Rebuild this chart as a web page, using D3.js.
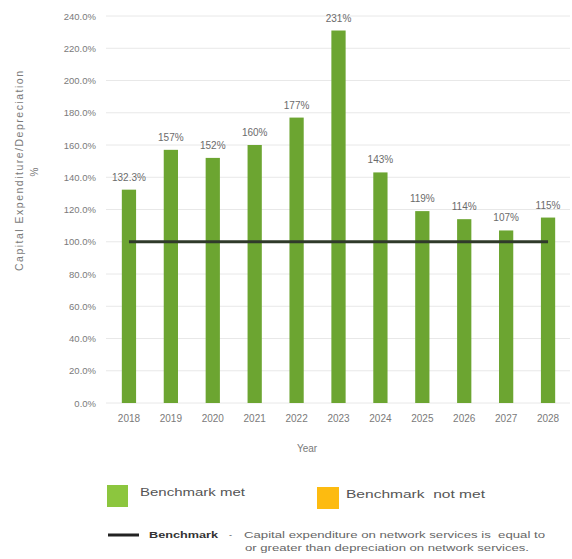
<!DOCTYPE html>
<html>
<head>
<meta charset="utf-8">
<script src="https://cdn.jsdelivr.net/npm/d3@7"></script>
<style>
    body { margin: 0; background: #fff; }
    svg text { font-family: "Liberation Sans", Arial, sans-serif; }
</style>
</head>
<body>
<div id="chart"></div>
<script>
// chart data
var years = ["2018", "2019", "2020", "2021", "2022", "2023", "2024", "2025", "2026", "2027", "2028"];
var ratios = [132.3, 157, 152, 160, 177, 231, 143, 119, 114, 107, 115];
var labels = ["132.3%", "157%", "152%", "160%", "177%", "231%", "143%", "119%", "114%", "107%", "115%"];
var benchmark = 100;
var yTicks = [0, 20, 40, 60, 80, 100, 120, 140, 160, 180, 200, 220, 240];

var svg = d3.select("#chart").append("svg")
    .attr("width", 572)
    .attr("height", 559);

var xscale = d3.scaleBand().domain(years).range([108, 569]).paddingInner(0.66).paddingOuter(0.33);
var yscale = d3.scaleLinear().domain([0, 240]).range([403, 16]);

// gridlines
svg.append("g").selectAll("line").data(yTicks).enter()
    .append("line")
    .attr("x1", 106).attr("x2", 570)
    .attr("y1", function (d) { return yscale(d); })
    .attr("y2", function (d) { return yscale(d); })
    .attr("stroke", "#e8e8e8")
    .attr("stroke-width", 1);

// y axis
var yAxis = d3.axisLeft(yscale).tickValues(yTicks).tickSize(0).tickPadding(0)
    .tickFormat(function (d) { return d.toFixed(1) + "%"; });
svg.append("g").attr("transform", "translate(96,0)").call(yAxis)
    .call(function (g) { g.select(".domain").remove(); })
    .selectAll("text").attr("fill", "#7a7a7a").style("font-size", "9.5px");

// x axis
var xAxis = d3.axisBottom(xscale).tickSize(0).tickPadding(12);
svg.append("g").attr("transform", "translate(0,403)").call(xAxis)
    .call(function (g) { g.select(".domain").remove(); })
    .selectAll("text").attr("fill", "#7a7a7a").style("font-size", "10px");

// bars
svg.append("g").selectAll("rect").data(ratios).enter()
    .append("rect")
    .attr("x", function (d, i) { return xscale(years[i]); })
    .attr("y", function (d) { return yscale(d); })
    .attr("width", xscale.bandwidth())
    .attr("height", function (d) { return yscale(0) - yscale(d); })
    .attr("fill", "#6ca531");

// value labels
svg.append("g").selectAll("text").data(ratios).enter()
    .append("text")
    .attr("x", function (d, i) { return xscale(years[i]) + xscale.bandwidth() / 2; })
    .attr("y", function (d) { return yscale(d) - 9; })
    .attr("text-anchor", "middle")
    .attr("fill", "#6b6b6b")
    .style("font-size", "10px")
    .text(function (d, i) { return labels[i]; });

// benchmark line
svg.append("line")
    .attr("x1", xscale(years[0]) + xscale.bandwidth() / 2)
    .attr("x2", xscale(years[years.length - 1]) + xscale.bandwidth() / 2)
    .attr("y1", yscale(benchmark)).attr("y2", yscale(benchmark))
    .attr("stroke", "#2f3a2a")
    .attr("stroke-width", 3);

// axis titles
svg.append("text")
    .attr("transform", "translate(23,171) rotate(-90)")
    .attr("text-anchor", "middle")
    .attr("fill", "#7a7a7a")
    .style("font-size", "10.5px")
    .attr("textLength", 200)
    .attr("lengthAdjust", "spacing")
    .text("Capital Expenditure/Depreciation");
svg.append("text")
    .attr("transform", "translate(38,172) rotate(-90)")
    .attr("text-anchor", "middle")
    .attr("fill", "#7a7a7a")
    .style("font-size", "10px")
    .text("%");
svg.append("text")
    .attr("x", 307).attr("y", 452)
    .attr("text-anchor", "middle")
    .attr("fill", "#7a7a7a")
    .style("font-size", "10px")
    .text("Year");

// legend
var legend = svg.append("g").style("font-family", "'DejaVu Sans', sans-serif");
legend.append("rect").attr("x", 107).attr("y", 485).attr("width", 21).attr("height", 22).attr("fill", "#8cc63e");
legend.append("text").attr("x", 140).attr("y", 496).attr("fill", "#555").style("font-size", "10.5px")
    .attr("textLength", 105).attr("lengthAdjust", "spacingAndGlyphs").text("Benchmark met");
legend.append("rect").attr("x", 317).attr("y", 487).attr("width", 22).attr("height", 22).attr("fill", "#fdbb10");
legend.append("text").attr("x", 346).attr("y", 498).attr("fill", "#555").style("font-size", "10.5px")
    .style("white-space", "pre")
    .attr("textLength", 139).attr("lengthAdjust", "spacingAndGlyphs").text("Benchmark  not met");
legend.append("line").attr("x1", 108).attr("x2", 139).attr("y1", 535).attr("y2", 535)
    .attr("stroke", "#222").attr("stroke-width", 3);
legend.append("text").attr("x", 149).attr("y", 538).attr("fill", "#333").style("font-size", "9px")
    .style("font-weight", "bold")
    .attr("textLength", 69).attr("lengthAdjust", "spacingAndGlyphs").text("Benchmark");
legend.append("text").attr("x", 229).attr("y", 538).attr("fill", "#666").style("font-size", "9px").text("-");
legend.append("text").attr("x", 244).attr("y", 538).attr("fill", "#666").style("font-size", "9.5px")
    .style("white-space", "pre")
    .attr("textLength", 301).attr("lengthAdjust", "spacingAndGlyphs")
    .text("Capital expenditure on network services is  equal to");
legend.append("text").attr("x", 245).attr("y", 551).attr("fill", "#666").style("font-size", "9.5px")
    .attr("textLength", 284).attr("lengthAdjust", "spacingAndGlyphs")
    .text("or greater than depreciation on network services.");
</script>
</body>
</html>
